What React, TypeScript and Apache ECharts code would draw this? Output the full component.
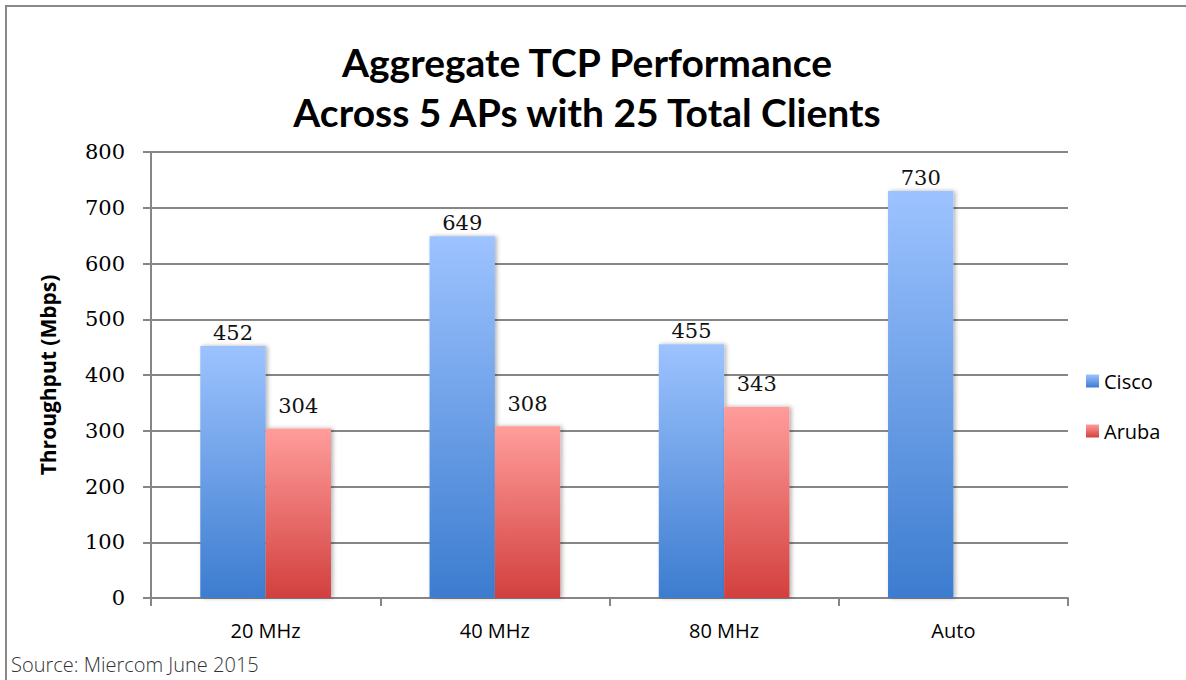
import React, { useEffect, useRef } from "react";
import * as echarts from "echarts";

const categories = ["20 MHz", "40 MHz", "80 MHz", "Auto"];
const ciscoValues = [452, 649, 455, 730];
const arubaValues: (number | null)[] = [304, 308, 343, null];
const titleLines = ["Aggregate TCP Performance", "Across 5 APs with 25 Total Clients"];
const yAxisName = "Throughput (Mbps)";
const sourceText = "Source: Miercom June 2015";

export default function App() {
  const ref = useRef<HTMLDivElement>(null);
  useEffect(() => {
    if (!ref.current) return;
    const chart = echarts.init(ref.current, undefined, { renderer: "svg" });
    const grad = (top: string, bottom: string) =>
      new echarts.graphic.LinearGradient(0, 0, 0, 1, [
        { offset: 0, color: top },
        { offset: 1, color: bottom },
      ]);
    const labelStyle = (distance: number) => ({
      show: true,
      position: "top" as const,
      distance,
      fontFamily: "DejaVu Serif",
      fontSize: 21,
      color: "#111",
    });
    chart.setOption({
      animation: false,
      backgroundColor: "#fff",
      title: {
        text: titleLines.join("\n"),
        left: 582,
        top: 32,
        textAlign: "center",
        textStyle: {
          fontFamily: "Lato",
          fontWeight: "bold",
          fontSize: 39,
          lineHeight: 50,
          color: "#000",
        },
      },
      legend: {
        orient: "vertical",
        left: 1081,
        top: 366,
        itemWidth: 13,
        itemHeight: 13,
        itemGap: 30,
        icon: "rect",
        textStyle: { fontFamily: "Open Sans", fontSize: 20, color: "#000" },
        data: ["Cisco", "Aruba"],
      },
      grid: { left: 151, right: 118, top: 152, bottom: 82, containLabel: false },
      xAxis: {
        type: "category",
        data: categories,
        axisLine: { lineStyle: { color: "#868686", width: 2 } },
        axisTick: { show: true, length: 8, lineStyle: { color: "#868686", width: 2 } },
        axisLabel: { margin: 22, fontFamily: "Open Sans", fontSize: 20, color: "#000" },
      },
      yAxis: {
        type: "value",
        min: 0,
        max: 800,
        interval: 100,
        name: yAxisName,
        nameLocation: "middle",
        nameGap: 93,
        nameTextStyle: { fontFamily: "Open Sans", fontWeight: "bold", fontSize: 21, color: "#000" },
        axisLine: { show: true, lineStyle: { color: "#868686", width: 2 } },
        axisTick: { show: true, length: 8, lineStyle: { color: "#868686", width: 2 } },
        axisLabel: { margin: 26, fontFamily: "DejaVu Serif", fontSize: 21, color: "#000" },
        splitLine: { lineStyle: { color: "#868686", width: 2 } },
      },
      series: [
        {
          name: "Cisco",
          type: "bar",
          data: ciscoValues,
          barGap: "0%",
          barCategoryGap: "43%",
          itemStyle: {
            color: grad("#9dc3ff", "#3c7ccf"),
            shadowColor: "rgba(0,0,0,0.3)",
            shadowBlur: 4,
            shadowOffsetX: 2,
          },
          label: labelStyle(3),
        },
        {
          name: "Aruba",
          type: "bar",
          data: arubaValues,
          itemStyle: {
            color: grad("#ff9d9b", "#d2403e"),
            shadowColor: "rgba(0,0,0,0.3)",
            shadowBlur: 4,
            shadowOffsetX: 2,
          },
          label: labelStyle(12),
        },
      ],
      graphic: [
        {
          type: "rect",
          shape: { x: 6, y: 6, width: 1300, height: 800 },
          style: { fill: "none", stroke: "#898989", lineWidth: 2 },
          silent: true,
        },
        {
          type: "text",
          left: 11,
          top: 654,
          style: { text: sourceText, fontFamily: "Open Sans", fontWeight: 300, fontSize: 20, fill: "#333" },
        },
      ],
    });
    return () => chart.dispose();
  }, []);
  return (
    <div
      ref={ref}
      style={{ position: "fixed", left: 0, top: 0, width: 1186, height: 680 }}
    />
  );
}
